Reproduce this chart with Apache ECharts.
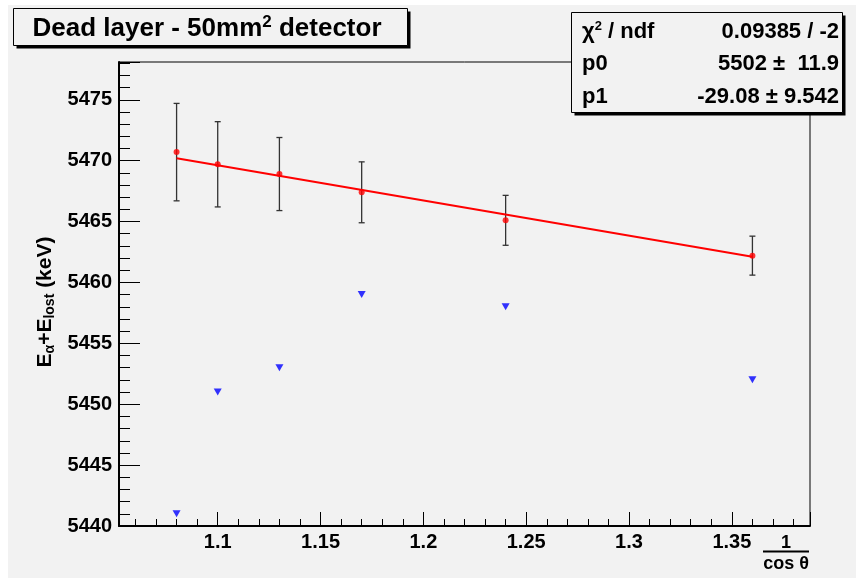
<!DOCTYPE html>
<html><head><meta charset="utf-8">
<script src="https://cdn.jsdelivr.net/npm/echarts@6/dist/echarts.min.js"></script>
<style>html,body{margin:0;padding:0;background:#fff}#c{width:856px;height:578px}</style>
</head><body><div id="c"></div>
<script>
// ---- data ----
const xValues = [1.08, 1.10, 1.13, 1.17, 1.24, 1.36];
const measured = [5470.7, 5469.7, 5468.9, 5467.4, 5465.1, 5462.2];
const measuredErr = [4.0, 3.5, 3.0, 2.5, 2.05, 1.6];
const rawValues = [5441, 5451, 5453, 5459, 5458, 5452];
const fitX = [1.08, 1.36];
const fitY = [5470.2, 5462.1];
const titleText = 'Dead layer - 50mm';
const statsLabels = ['χ2 / ndf', 'p0', 'p1'];
const statsValues = ['0.09385 / -2', '5502 \u00b1  11.9', '-29.08 \u00b1 9.542'];

const FONT = '"Liberation Sans", Arial, Helvetica, sans-serif';
const BG = '#f2f2f2';

const chart = echarts.init(document.getElementById('c'), null, {renderer: 'canvas'});

const errData = xValues.map((x, i) => [x, measured[i], measuredErr[i]]);
const redData = xValues.map((x, i) => [x, measured[i]]);
const blueData = xValues.map((x, i) => [x, rawValues[i]]);
const fitData = fitX.map((x, i) => [x, fitY[i]]);

function boxWithShadow(x, y, w, h, z) {
  return [
    {type: 'rect', z: z, shape: {x: x + 3, y: y + 3, width: w, height: h}, style: {fill: '#000'}},
    {type: 'rect', z: z + 1, shape: {x: x, y: y, width: w, height: h}, style: {fill: BG, stroke: '#000', lineWidth: 1}}
  ];
}

const graphics = [
  {type: 'rect', z: -10, silent: true, shape: {x: 8, y: 5, width: 848, height: 573}, style: {fill: BG}},
  ...boxWithShadow(13.5, 8.5, 394, 37, 10),
  {type: 'text', z: 20, style: {x: 207, y: 29, text: '{n|' + titleText + '}{s|2}{n| detector}', textAlign: 'center', textVerticalAlign: 'middle',
    rich: {n: {fontFamily: FONT, fontWeight: 'bold', fontSize: 26, lineHeight: 30, fill: '#000'},
           s: {fontFamily: FONT, fontWeight: 'bold', fontSize: 17, lineHeight: 24, verticalAlign: 'top', fill: '#000'}}}},
  ...boxWithShadow(571.5, 12.5, 271, 100, 10),
];
const rowY = [31.5, 63.5, 96.5];
statsLabels.forEach((lab, i) => {
  const txt = i === 0 ? '{n|χ}{s|2}{n| / ndf}' : '{n|' + lab + '}';
  graphics.push({type: 'text', z: 20, style: {x: 582, y: rowY[i], text: txt, textAlign: 'left', textVerticalAlign: 'middle',
    rich: {n: {fontFamily: FONT, fontWeight: 'bold', fontSize: 22, lineHeight: 24, fill: '#000'},
           s: {fontFamily: FONT, fontWeight: 'bold', fontSize: 13, lineHeight: 11, verticalAlign: 'top', fill: '#000'}}}});
  graphics.push({type: 'text', z: 20, style: {x: 839, y: rowY[i], text: statsValues[i], textAlign: 'right', textVerticalAlign: 'middle',
    fontFamily: FONT, fontWeight: 'bold', fontSize: 22, fill: '#000'}});
});
// y axis title (rotated)
graphics.push({type: 'text', z: 20, rotation: Math.PI / 2, x: 45, y: 302,
  style: {x: 0, y: 0, text: '{n|E}{b|α}{n|+E}{b|lost}{n| (keV)}', textAlign: 'center', textVerticalAlign: 'middle',
    rich: {n: {fontFamily: FONT, fontWeight: 'bold', fontSize: 21, lineHeight: 24, fill: '#000'},
           b: {fontFamily: FONT, fontWeight: 'bold', fontSize: 14, lineHeight: 13, verticalAlign: 'bottom', fill: '#000'}}}});
// x axis title: 1 / cos θ
graphics.push({type: 'text', z: 20, style: {x: 786, y: 543, text: '1', textAlign: 'center', textVerticalAlign: 'middle', fontFamily: FONT, fontWeight: 'bold', fontSize: 18, fill: '#000'}});
graphics.push({type: 'line', z: 20, shape: {x1: 763, y1: 551.5, x2: 809, y2: 551.5}, style: {stroke: '#000', lineWidth: 2}});
graphics.push({type: 'text', z: 20, style: {x: 786, y: 564, text: 'cos θ', textAlign: 'center', textVerticalAlign: 'middle', fontFamily: FONT, fontWeight: 'bold', fontSize: 18, fill: '#000'}});

const axisLabelStyle = {color: '#000', fontFamily: FONT, fontWeight: 'bold', fontSize: 20};

chart.setOption({
  backgroundColor: '#fff',
  animation: false,
  grid: {left: 119, right: 46, top: 62, bottom: 52, show: true, borderColor: '#000', borderWidth: 1, backgroundColor: 'transparent'},
  xAxis: {
    type: 'value', min: 1.052, max: 1.388, splitNumber: 6,
    axisLine: {show: true, onZero: false, lineStyle: {color: '#000', width: 2}},
    axisTick: {show: true, inside: true, length: 14, lineStyle: {color: '#000', width: 1}},
    minorTick: {show: true, splitNumber: 5, length: 7, lineStyle: {color: '#000', width: 1}},
    splitLine: {show: false}, minorSplitLine: {show: false},
    axisLabel: Object.assign({showMinLabel: false, showMaxLabel: false, margin: 6, formatter: v => String(+v.toFixed(3))}, axisLabelStyle)
  },
  yAxis: {
    type: 'value', min: 5440, max: 5478.1, interval: 5,
    axisLine: {show: true, onZero: false, lineStyle: {color: '#000', width: 2}},
    axisTick: {show: true, inside: true, length: 21, lineStyle: {color: '#000', width: 1}},
    minorTick: {show: true, splitNumber: 5, length: 11, lineStyle: {color: '#000', width: 1}},
    splitLine: {show: false}, minorSplitLine: {show: false},
    axisLabel: Object.assign({showMaxLabel: false, margin: 7, formatter: v => String(Math.round(v))}, axisLabelStyle)
  },
  graphic: graphics,
  series: [
    {
      type: 'custom', name: 'err', data: errData, z: 3,
      renderItem: function (params, api) {
        const x = api.value(0), y = api.value(1), e = api.value(2);
        const top = api.coord([x, y + e]);
        const bot = api.coord([x, y - e]);
        const st = {stroke: '#333', lineWidth: 1.3};
        return {type: 'group', children: [
          {type: 'line', shape: {x1: top[0], y1: top[1], x2: bot[0], y2: bot[1]}, style: st},
          {type: 'line', shape: {x1: top[0] - 3, y1: top[1], x2: top[0] + 3, y2: top[1]}, style: st},
          {type: 'line', shape: {x1: bot[0] - 3, y1: bot[1], x2: bot[0] + 3, y2: bot[1]}, style: st}
        ]};
      }
    },
    {
      type: 'line', name: 'fit', data: fitData, showSymbol: false, symbol: 'none', z: 4,
      lineStyle: {color: '#ff0000', width: 2}
    },
    {
      type: 'scatter', name: 'measured', data: redData, symbol: 'circle', symbolSize: 6, z: 5,
      itemStyle: {color: '#ff0000'}
    },
    {
      type: 'scatter', name: 'raw', data: blueData, symbol: 'triangle', symbolRotate: 180, symbolSize: [8, 7], z: 5,
      itemStyle: {color: '#0000ff'}
    }
  ]
});
</script>
</body></html>
